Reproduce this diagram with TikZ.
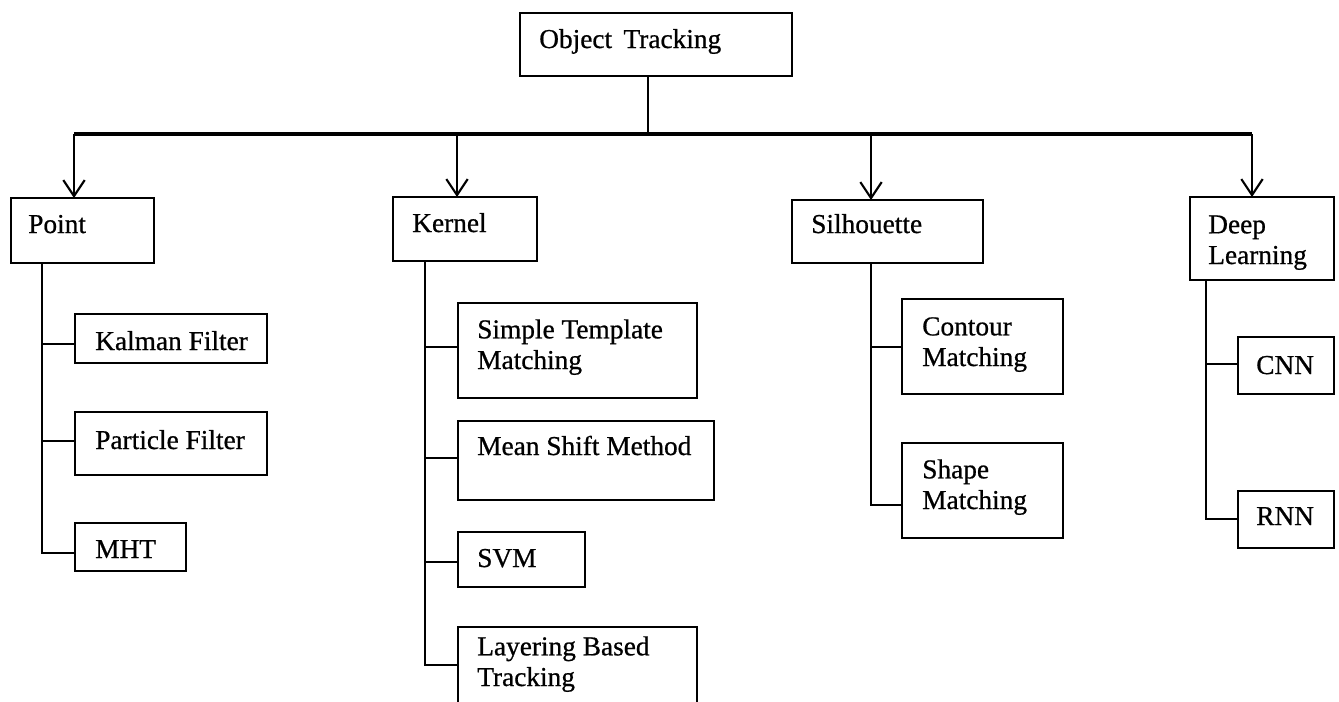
\documentclass[tikz,border=0pt]{standalone}
\usepackage{fontspec}
\setmainfont{Liberation Serif}
\newfontfamily\lblfont{Liberation Serif}[FakeBold=0.7]
\usetikzlibrary{arrows.meta}
\tikzset{
  box/.style={draw, rectangle, line width=2pt, inner sep=0pt, outer sep=0pt},
  lbl/.style={anchor=base west, inner sep=0pt, align=left,
              font=\lblfont\fontsize{20.5}{23}\selectfont},
  link/.style={line width=2pt},
  arr/.style={line width=1.6pt, -{Straight Barb[length=12pt, width=16pt]}},
}
% box named #1 with corners (#2,#3) and (#4,#5), in pixel-like units
\newcommand\tbox[5]{%
  \node[box, anchor=north west,
        minimum width={(#4-#2)*0.75pt}, minimum height={(#5-#3)*0.75pt}]
        (#1) at (#2,#3) {};}
\begin{document}
\begin{tikzpicture}[x=0.75pt, y=-0.75pt]
\useasboundingbox (0,0) rectangle (1339,701);

% root
\tbox{ot}{520}{13}{792}{76}
\node[lbl] (t-ot) at (539,48) {Object\, Tracking};

% first level
\tbox{point}{11}{198}{154}{263}
\tbox{kernel}{393}{197}{537}{261}
\tbox{sil}{792}{200}{983}{263}
\tbox{deep}{1190}{197}{1334}{280}
\node[lbl] (t-point) at (28,233) {Point};
\node[lbl] (t-kernel) at (412,232) {Kernel};
\node[lbl] (t-sil) at (811,233) {Silhouette};
% multi-line labels are placed at the baseline of their last line
\node[lbl] (t-deep) at (1208,264) {Deep\\Learning};

% point methods
\tbox{kalman}{75}{314}{267}{363}
\tbox{particle}{75}{412}{267}{475}
\tbox{mht}{75}{523}{186}{571}
\node[lbl] (t-kalman) at (95,350) {Kalman Filter};
\node[lbl] (t-particle) at (95,449) {Particle Filter};
\node[lbl] (t-mht) at (95,558) {MHT};

% kernel methods
\tbox{stm}{458}{303}{697}{398}
\tbox{msm}{458}{421}{714}{500}
\tbox{svm}{458}{532}{585}{587}
\tbox{lbt}{458}{627}{697}{720}
\node[lbl] (t-stm) at (477,369) {Simple Template\\Matching};
\node[lbl] (t-msm) at (477,455) {Mean Shift Method};
\node[lbl] (t-svm) at (477,567) {SVM};
\node[lbl] (t-lbt) at (477,686) {Layering Based\\Tracking};

% silhouette methods
\tbox{contour}{902}{299}{1063}{394}
\tbox{shape}{902}{443}{1063}{538}
\node[lbl] (t-contour) at (922,366) {Contour\\Matching};
\node[lbl] (t-shape) at (922,509) {Shape\\Matching};

% deep learning methods
\tbox{cnn}{1238}{337}{1334}{394}
\tbox{rnn}{1238}{491}{1334}{548}
\node[lbl] (t-cnn) at (1256,374) {CNN};
\node[lbl] (t-rnn) at (1256,525) {RNN};

% distribution bus under the root
\coordinate (stem) at (648,134);
\coordinate (inPoint) at (74,134);
\coordinate (inKernel) at (457,134);
\coordinate (inSil) at (871,134);
\coordinate (inDeep) at (1252,134);
\draw[link] (stem |- ot.south) -- (stem);
\draw[link, line width=2.4pt] (inPoint) -- (inDeep);
\draw[arr] (inPoint) -- (inPoint |- point.north);
\draw[arr] (inKernel) -- (inKernel |- kernel.north);
\draw[arr] (inSil) -- (inSil |- sil.north);
\draw[arr] (inDeep) -- (inDeep |- deep.north);

% trunks to the methods
\draw[link] (point.south -| 42,0) |- (kalman.west |- 0,344);
\draw[link] (point.south -| 42,0) |- (particle.west |- 0,441);
\draw[link] (point.south -| 42,0) |- (mht.west |- 0,553);

\draw[link] (kernel.south -| 425,0) |- (stm.west |- 0,347);
\draw[link] (kernel.south -| 425,0) |- (msm.west |- 0,458);
\draw[link] (kernel.south -| 425,0) |- (svm.west |- 0,562);
\draw[link] (kernel.south -| 425,0) |- (lbt.west |- 0,665);

\draw[link] (sil.south -| 871,0) |- (contour.west |- 0,347);
\draw[link] (sil.south -| 871,0) |- (shape.west |- 0,505);

\draw[link] (deep.south -| 1206,0) |- (cnn.west |- 0,364);
\draw[link] (deep.south -| 1206,0) |- (rnn.west |- 0,519);
\end{tikzpicture}
\end{document}
